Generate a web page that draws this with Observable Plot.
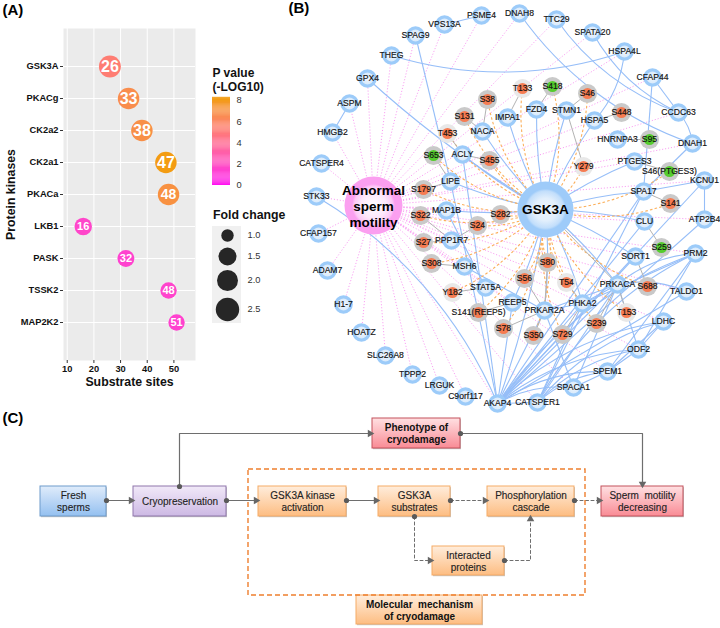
<!DOCTYPE html>
<html><head><meta charset="utf-8">
<script src="https://cdn.jsdelivr.net/npm/d3@7"></script>
<script src="https://cdn.jsdelivr.net/npm/@observablehq/plot@0.6"></script>
<style>
html,body{margin:0;padding:0;background:#fff}
#fig{position:relative;width:720px;height:628px;overflow:hidden;font-family:"Liberation Sans",Arial,sans-serif}
#fig>svg,#fig>figure{position:absolute;left:0;top:0;margin:0}
</style></head><body>
<div id="fig">
<svg width="0" height="0" style="position:absolute"><defs>
<linearGradient id="gBlue" x1="0" y1="0" x2="0" y2="1"><stop offset="0" stop-color="#e0ecfb"/><stop offset="1" stop-color="#94c0f0"/></linearGradient>
<linearGradient id="gPurple" x1="0" y1="0" x2="0" y2="1"><stop offset="0" stop-color="#f1e9f8"/><stop offset="1" stop-color="#cdb9e4"/></linearGradient>
<linearGradient id="gOrange" x1="0" y1="0" x2="0" y2="1"><stop offset="0" stop-color="#ffeddc"/><stop offset="1" stop-color="#fdbd82"/></linearGradient>
<linearGradient id="gRed" x1="0" y1="0" x2="0" y2="1"><stop offset="0" stop-color="#ffe0e2"/><stop offset="1" stop-color="#f98b95"/></linearGradient>
<radialGradient id="hubPink"><stop offset="0" stop-color="#ffffff"/><stop offset=".45" stop-color="#fde6fb"/><stop offset=".66" stop-color="#fdc8f7"/><stop offset=".74" stop-color="#fb9ff0"/><stop offset="1" stop-color="#fb9ff0"/></radialGradient>
<radialGradient id="hubBlue"><stop offset="0" stop-color="#eef6fe"/><stop offset=".4" stop-color="#e2effc"/><stop offset=".66" stop-color="#c2defb"/><stop offset=".74" stop-color="#9ecbf9"/><stop offset="1" stop-color="#9ecbf9"/></radialGradient>
<radialGradient id="nodeCore"><stop offset="0" stop-color="#f0f7fe"/><stop offset="1" stop-color="#d9eafb"/></radialGradient>
</defs></svg>
</div>
<script>
// ---------- Panel A data ----------
const kinases = ["GSK3A","PKACg","CK2a2","CK2a1","PKACa","LKB1","PASK","TSSK2","MAP2K2"];
const substrateSites = [26,33,38,47,48,16,32,48,51];
const pValues = [5.2,6.6,6.8,8,7,1.6,1.4,1.5,1.4];
const foldChange = [2.2,2.1,2.1,2.1,2.1,1.45,1.4,1.35,1.35];
const pTicks = [0,2,4,6,8];
const foldTicks = [1,1.5,2,2.5];

// ---------- Panel B data (layout) ----------
const proteinLayout = [
["PSME4",481,15],["VPS13A",444,24],["SPAG9",415,35],["THEG",391,55],["GPX4",367,78],["ASPM",349,103],["HMGB2",332,132],
["CATSPER4",321,163],["STK33",316,196],["CFAP157",318,233],["ADAM7",327,270],["H1-7",343,304],["HOATZ",361,332],
["SLC26A8",385,355],["TPPP2",412,374],["LRGUK",439,385],["C9orf117",465,396],["AKAP4",497,403],["CATSPER1",537,402],
["SPACA1",573,387],["SPEM1",607,371],["ODF2",638,349],["LDHC",663,321],["TALDO1",686,291],["PRM2",695,253],
["ATP2B4",704,219],["KCNU1",704,180],["DNAH1",692,143],["CCDC63",678,112],["CFAP44",652,77],["HSPA4L",624,51],
["SPATA20",592,32],["TTC29",556,19],["DNAH8",519,13],
["IMPA1",507,117],["NACA",482,131],["ACLY",462,154],["LIPE",450,181],["MAP1B",446,210],["PPP1R7",451,240],["MSH6",464,266],
["STAT5A",485,287],["REEP5",512,302],["PRKAR2A",544,310],["PHKA2",582,303],["PRKACA",617,284],["SORT1",635,256],
["CLU",644,221],["SPA17",643,191],["PTGES3",634,161],["HNRNPA3",617,139],["HSPA5",594,120],["STMN1",566,110],["FZD4",536,109]
];
const siteLayout = [
["S38",487,99],["S131",464,116],["S455",489,160],["S1797",423,189],["S322",420,215],["S27",423,242],["S308",431,263],
["S141(REEP5)",478,312],["S78",503,328],["S24",477,225],["S282",500,214],["S80",547,262],["S56",524,278],["S350",533,335],
["S729",562,334],["S239",596,323],["S688",647,286],["S141",670,203],["S448",621,112],["S46",587,93]
];
const paleSiteLayout = [["T453",447,133],["Y182",452,292],["T54",566,282],["T153",626,312],["Y279",583,166],["T133",522,88]];
const greenSiteLayout = [["S653",433,155],["S259",661,247],["S46(PTGES3)",669,171],["S95",649,139],["S418",552,86]];
const hubMotility = ["Abnormal\nsperm\nmotility",373,205];
const hubKinase = ["GSK3A",545,209];

const motilityLinks = ["PSME4","VPS13A","SPAG9","THEG","GPX4","ASPM","HMGB2","CATSPER4","STK33","CFAP157","ADAM7","H1-7","HOATZ",
"SLC26A8","TPPP2","LRGUK","C9orf117","CATSPER1","SPACA1","SPEM1","ODF2","LDHC","TALDO1","PRM2","ATP2B4","KCNU1","DNAH1","CCDC63",
"CFAP44","HSPA4L","SPATA20","TTC29","DNAH8","PRKACA","PHKA2","REEP5","CLU","SORT1","PTGES3","HSPA5","LIPE","PPP1R7","MSH6","STAT5A","MAP1B","AKAP4"];
const kinaseStraight = ["GPX4","NACA","ACLY","IMPA1","FZD4","STMN1","HSPA5","PTGES3","SPA17","CLU","SORT1","PRKACA","PRKAR2A","PHKA2","REEP5","MAP1B","AKAP4","LIPE"];
const blueStraight = [["ASPM","HMGB2"],["VPS13A","PSME4"],["SPAG9","LIPE"],["LIPE","AKAP4"],["CFAP44","SPA17"],["CFAP44","CCDC63"],["DNAH1","SPA17"],["ACLY","AKAP4"],
["AKAP4","PRKAR2A"],["AKAP4","PHKA2"],["AKAP4","PRKACA"],["AKAP4","SORT1"],["AKAP4","CLU"],["AKAP4","SPA17"],["AKAP4","KCNU1"],["AKAP4","ATP2B4"],["AKAP4","TALDO1"],["AKAP4","CATSPER1"],["AKAP4","REEP5"],
["CATSPER1","PRKACA"],["CATSPER1","PHKA2"],["CATSPER1","SPA17"],["SPACA1","PRKACA"],["SPACA1","PRKAR2A"],["SPACA1","SPEM1"],["SPEM1","ODF2"],["SPEM1","LDHC"],["SPEM1","PRM2"],["ODF2","LDHC"],["ODF2","PRM2"],["ODF2","PRKACA"],
["PRKACA","PHKA2"],["PRKACA","PRKAR2A"],["KCNU1","ATP2B4"],["KCNU1","SPA17"],["MSH6","PRKAR2A"],["STAT5A","MAP1B"],["PHKA2","PRM2"],["PHKA2","PRKAR2A"]];
const blueCurved = [["HSPA4L","THEG"],["STK33","AKAP4"],["DNAH1","DNAH8"],["CCDC63","TTC29"],["CCDC63","SPATA20"],["HSPA4L","HSPA5"],["CCDC63","DNAH1"],
["AKAP4","PRM2"],["AKAP4","LDHC"],["AKAP4","ODF2"],["AKAP4","SPEM1"],["AKAP4","SPACA1"],["CATSPER1","LDHC"],["CATSPER1","ODF2"],["CATSPER1","SPEM1"],["CATSPER1","PRM2"],["PRKACA","TALDO1"],["PRKACA","PRM2"]];
const siteProteinLinks = [["S38","NACA"],["S131","NACA"],["T453","ACLY"],["S653","LIPE"],["S455","ACLY"],["S1797","LIPE"],["S322","PPP1R7"],["S27","PPP1R7"],["S24","PPP1R7"],["S308","MSH6"],
["Y182","STAT5A"],["S141(REEP5)","REEP5"],["S78","PRKAR2A"],["S350","PRKAR2A"],["S56","PRKAR2A"],["S80","PRKAR2A"],["S729","PHKA2"],["S239","PRKACA"],["T153","PRKACA"],["S688","SORT1"],
["S259","CLU"],["S141","SPA17"],["S46(PTGES3)","PTGES3"],["S95","HNRNPA3"],["S448","HSPA5"],["Y279","STMN1"],["S46","STMN1"],["S418","FZD4"],["T133","IMPA1"],["T54","PHKA2"],["GSK3A","PRKACA"]];
const kinaseSites = ["S38","S131","T453","S455","S1797","S322","S27","S308","S141(REEP5)","S78","S24","S282","S80","S56","S350","S729","S239","S688","S141","S46","T133","Y182","T54","T153","Y279","S653","S46(PTGES3)","S418"];

// ---------- Panel C data ----------
const flowBoxes = [
 {label:"Fresh\nsperms",x1:40,x2:106,y1:486,y2:516,kind:"Blue",edge:"#6f9bcb"},
 {label:"Cryopreservation",x1:133,x2:226,y1:486,y2:516,kind:"Purple",edge:"#8f76ab"},
 {label:"GSK3A kinase\nactivation",x1:258,x2:346,y1:486,y2:516,kind:"Orange",edge:"#f5ab66"},
 {label:"GSK3A\nsubstrates",x1:378,x2:450,y1:486,y2:516,kind:"Orange",edge:"#f5ab66"},
 {label:"Phosphorylation\ncascade",x1:487,x2:574,y1:486,y2:516,kind:"Orange",edge:"#f5ab66"},
 {label:"Sperm  motility\ndecreasing",x1:601,x2:683,y1:486,y2:516,kind:"Red",edge:"#c4525c"},
 {label:"Interacted\nproteins",x1:432,x2:504,y1:546,y2:575,kind:"Orange",edge:"#f5ab66"},
 {label:"Phenotype of\ncryodamage",x1:372,x2:460,y1:418,y2:448,kind:"Red",edge:"#c4525c",bold:true},
 {label:"Molecular  mechanism\nof cryodamage",x1:356,x2:482,y1:595,y2:624,kind:"Orange",edge:"#f5ab66",bold:true}
];
const solidFlows = [
 {pts:[[106,500],[133,500]],rot:90},{pts:[[226,500],[258,500]],rot:90},{pts:[[346,500],[378,500]],rot:90},
 {pts:[[179,486],[179,433],[372,433]],rot:90},{pts:[[460,433],[642,433],[642,486]],rot:180}];
const dashedFlows = [
 {pts:[[450,500],[487,500]],rot:90},{pts:[[574,500],[601,500]],rot:90},
 {pts:[[414,516],[414,560],[432,560]],rot:90},{pts:[[504,560],[530,560],[530,516]],rot:0}];
const mechanismFrame = [{x1:248,x2:585,y1:469,y2:595}];
const panelLetters = [{t:"(A)",x:2,y:10},{t:"(B)",x:288,y:8},{t:"(C)",x:2,y:418}];

const fig = document.getElementById("fig");
const base = {width:720,height:628,marginLeft:0,marginRight:0,marginTop:0,marginBottom:0,style:{background:"transparent",overflow:"visible",fontFamily:"'Liberation Sans',Arial,sans-serif"}};
const pageX = {domain:[0,720],range:[0,720],axis:null};
const pageY = {domain:[0,628],range:[0,628],axis:null};

// ---------- Panel A ----------
const table = kinases.map((k,i)=>({k,s:substrateSites[i],p:pValues[i],f:foldChange[i]}));
const colorScale = {type:"linear",domain:[0,8],range:["#ff10f0","#f39c12"],interpolate:d3.interpolateLab};
const sizeScale = {type:"linear",domain:foldTicks,range:[6.2,9,10.5,11.7]};
fig.append(Plot.plot({...base,marginLeft:63,marginRight:525,marginTop:28,marginBottom:268,
  x:{domain:[8.6,58.1],range:[63,195]},
  y:{type:"point",domain:kinases,range:[50,338]},
  r:sizeScale,
  color:colorScale,
  marks:[
    Plot.frame({fill:"#ebebeb",stroke:"none"}),
    Plot.gridX({ticks:[10,20,30,40,50],stroke:"#fff",strokeOpacity:1,strokeWidth:1}),
    Plot.gridY(kinases,{stroke:"#fff",strokeOpacity:1,strokeWidth:1}),
    Plot.axisX({ticks:[10,20,30,40,50],label:null,tickSize:3,tickPadding:2,fontWeight:"bold",fontSize:9.3,fill:"#111",stroke:"#333"}),
    Plot.axisY({label:null,tickSize:3,tickPadding:2,fontWeight:"bold",fontSize:9.3,fill:"#111",stroke:"#333"}),
    Plot.dot(table,{x:"s",y:"k",r:"f",fill:"p"}),
    Plot.text(table,{x:"s",y:"k",text:"s",fill:"#fff",fontWeight:"bold",fontSize:d=>d.f>2?(d.k==="PKACa"?14:16):11})
  ]}));
fig.append(Plot.plot({...base,x:pageX,y:pageY,marks:[
  Plot.text([{t:"Substrate sites"}],{x:()=>129,y:()=>382,text:"t",fontWeight:"bold",fontSize:12.3,fill:"#111"}),
  Plot.text([{t:"Protein kinases"}],{x:()=>11,y:()=>194,text:"t",fontWeight:"bold",fontSize:12.3,rotate:-90,fill:"#111"}),
  Plot.text([{t:"P value\n(-LOG10)"}],{x:()=>212,y:()=>79,text:"t",fontWeight:"bold",fontSize:12,textAnchor:"start",lineHeight:1.15,fill:"#111"}),
  Plot.text([{t:"Fold change"}],{x:()=>212.5,y:()=>215,text:"t",fontWeight:"bold",fontSize:12.3,textAnchor:"start",fill:"#111"}),
  Plot.rect([{x1:212,x2:241,y1:226,y2:323}],{x1:"x1",x2:"x2",y1:"y1",y2:"y2",fill:"#f0f0f0"})
]}));
fig.append(Plot.plot({...base,
  x:{domain:[0,1],range:[212,230],axis:null},
  y:{domain:[0,8],range:[185,100],axis:null},
  color:colorScale,
  marks:[
    Plot.rect(d3.range(0,8.3,0.1),{x1:()=>0,x2:()=>1,y1:d=>d,y2:d=>Math.min(d+0.11,8.3),fill:d=>Math.min(d,8)}),
    Plot.text(pTicks,{x:()=>1,y:d=>d,text:d=>String(d),dx:6,textAnchor:"start",fontSize:9.3,fill:"#333"})
  ]}));
fig.append(Plot.plot({...base,
  x:{domain:[0,1],range:[227,247],axis:null},
  y:{type:"linear",domain:foldTicks,range:[235,256,280,309],axis:null},
  r:sizeScale,
  marks:[
    Plot.dot(foldTicks,{x:()=>0,y:d=>d,r:d=>d,fill:"#262626"}),
    Plot.text(foldTicks,{x:()=>1,y:d=>d,text:d=>d.toFixed(1),textAnchor:"start",fontSize:9.3,fill:"#333"})
  ]}));

// ---------- Panel B ----------
const pos = new Map([...proteinLayout,...siteLayout,...paleSiteLayout,...greenSiteLayout,hubMotility,hubKinase].map(d=>[d[0],d]));
const edge = ([a,b])=>({x1:pos.get(a)[1],y1:pos.get(a)[2],x2:pos.get(b)[1],y2:pos.get(b)[2]});
const link = (list,o)=>Plot.arrow(list.map(edge),{x1:"x1",y1:"y1",x2:"x2",y2:"y2",headLength:0,strokeLinecap:"butt",...o});
const blue = "#96bef8";
const hM = hubMotility[0], hK = hubKinase[0];
const leftSites = kinaseSites.filter(s=>pos.get(s)[1]<545);
const rightSites = kinaseSites.filter(s=>pos.get(s)[1]>=545);
const orangeStyle = {stroke:"#fbb05c",strokeWidth:1.1,strokeDasharray:"2.6,2.2"};
fig.append(Plot.plot({...base,x:pageX,y:pageY,marks:[
  link(motilityLinks.map(p=>[hM,p]),{bend:0,stroke:"#fa9df3",strokeWidth:1,strokeDasharray:"1.1,1.9"}),
  link(kinaseStraight.map(p=>[hK,p]),{bend:6,stroke:blue,strokeWidth:1.1}),
  link(blueStraight,{bend:0,stroke:blue,strokeWidth:1.1}),
  link(blueCurved,{bend:18,stroke:blue,strokeWidth:1.1}),
  link(leftSites.map(s=>[hK,s]),{bend:18,...orangeStyle}),
  link(rightSites.map(s=>[hK,s]),{bend:-18,...orangeStyle}),
  link(siteProteinLinks,{bend:0,stroke:"#b3b3b3",strokeWidth:1}),
  // protein nodes
  Plot.dot(proteinLayout,{x:d=>d[1],y:d=>d[2],r:9.3,fill:"#9ccbf9"}),
  Plot.dot(proteinLayout,{x:d=>d[1],y:d=>d[2],r:6,fill:"url(#nodeCore)"}),
  // phosphosites
  Plot.dot(siteLayout,{x:d=>d[1],y:d=>d[2],r:9.5,fill:"#c9c9c9"}),
  Plot.dot(greenSiteLayout,{x:d=>d[1],y:d=>d[2],r:9.5,fill:"#c9c9c9"}),
  Plot.dot(paleSiteLayout,{x:d=>d[1],y:d=>d[2],r:9.5,fill:"#e8e8e8"}),
  Plot.dot(siteLayout,{x:d=>d[1],y:d=>d[2],r:5.6,fill:"#f57c52"}),
  Plot.dot(paleSiteLayout,{x:d=>d[1],y:d=>d[2],r:5.6,fill:"#f57c52"}),
  Plot.dot(greenSiteLayout,{x:d=>d[1],y:d=>d[2],r:5.6,fill:"#55cc2e"}),
  // hubs
  Plot.dot([hubMotility],{x:d=>d[1],y:d=>d[2],r:29,fill:"url(#hubPink)"}),
  Plot.dot([hubKinase],{x:d=>d[1],y:d=>d[2],r:28,fill:"url(#hubBlue)"}),
  // labels
  Plot.text([...proteinLayout,...siteLayout,...paleSiteLayout,...greenSiteLayout],{x:d=>d[1],y:d=>d[2],text:d=>d[0],fontSize:8.6,fill:"#111",stroke:"#111",strokeWidth:0.15}),
  Plot.text([hubMotility],{x:d=>d[1],y:d=>d[2],text:d=>d[0],fontSize:13.5,fontWeight:"bold",fill:"#000",lineHeight:1.18}),
  Plot.text([hubKinase],{x:d=>d[1],y:d=>d[2],text:d=>d[0],fontSize:13.6,fontWeight:"bold",fill:"#000"})
]}));

// ---------- Panel C ----------
const flowDot = (list)=>list.map(f=>({x:f.pts[0][0],y:f.pts[0][1]}));
const flowTip = (list)=>list.map(f=>{const q=f.pts[f.pts.length-1];return {x:q[0],y:q[1],rot:f.rot};});
const flowLine = (list,o)=>list.map(f=>Plot.line(f.pts,{x:d=>d[0],y:d=>d[1],stroke:"#6e6e6e",...o}));
const kinds = ["Blue","Purple","Orange","Red"];
fig.append(Plot.plot({...base,x:pageX,y:pageY,marks:[
  ...flowLine(solidFlows,{strokeWidth:1.2}),
  ...flowLine(dashedFlows,{strokeWidth:1,strokeDasharray:"3,2.5"}),
  Plot.rect(flowBoxes,{x1:"x1",x2:"x2",y1:"y1",y2:"y2",dx:1,dy:1.2,fill:"#c4c4c4"}),
  ...kinds.map(k=>Plot.rect(flowBoxes.filter(b=>b.kind===k),{x1:"x1",x2:"x2",y1:"y1",y2:"y2",fill:`url(#g${k})`,stroke:"edge",strokeWidth:1})),
  Plot.rect(mechanismFrame,{x1:"x1",x2:"x2",y1:"y1",y2:"y2",fill:"none",stroke:"#ee7f2e",strokeWidth:1.4,strokeDasharray:"5,3"}),
  Plot.dot(flowTip([...solidFlows,...dashedFlows]),{x:d=>d.rot===90?d.x-2.5:d.x,y:d=>d.rot===180?d.y-2.5:(d.rot===0?d.y+2.5:d.y),symbol:"triangle",r:2.8,rotate:"rot",fill:"#666"}),
  Plot.dot(flowDot([...solidFlows,...dashedFlows]),{x:"x",y:"y",r:2.6,fill:"#5a5a5a"}),
  Plot.text(flowBoxes.filter(b=>!b.bold),{x:d=>(d.x1+d.x2)/2,y:d=>(d.y1+d.y2)/2,text:"label",fontSize:10,lineHeight:1.18,fill:"#222",stroke:"#222",strokeWidth:0.12}),
  Plot.text(flowBoxes.filter(b=>b.bold),{x:d=>(d.x1+d.x2)/2,y:d=>(d.y1+d.y2)/2,text:"label",fontSize:10,fontWeight:"bold",lineHeight:1.18,fill:"#111"}),
  Plot.text(panelLetters,{x:"x",y:"y",text:"t",textAnchor:"start",fontSize:15,fontWeight:"bold",fill:"#000"})
]}));
</script>
</body></html>
